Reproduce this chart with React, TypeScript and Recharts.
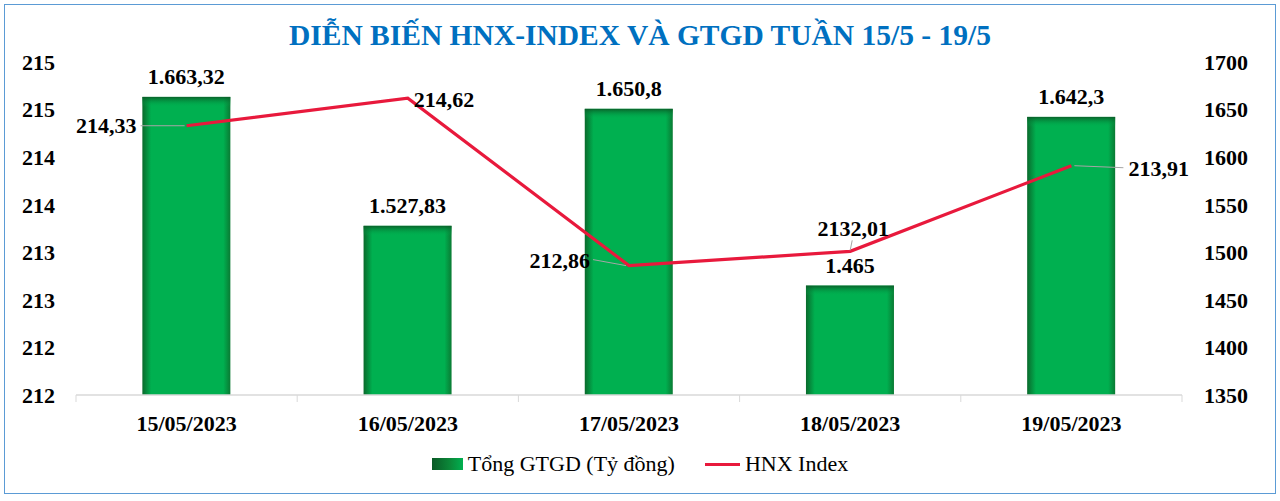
import React from "react";
import { ComposedChart, Bar, Line, XAxis, YAxis, LabelList } from "recharts";

// values
const days = ["15/05/2023", "16/05/2023", "17/05/2023", "18/05/2023", "19/05/2023"];
const gtgd = [1663.32, 1527.83, 1650.8, 1465, 1642.3];
const hnxIndex = [214.33, 214.62, 212.86, 213.01, 213.91];
const hnxLabels = ["214,33", "214,62", "212,86", "2132,01", "213,91"];
const leftTicks = [211.5, 212, 212.5, 213, 213.5, 214, 214.5, 215];
const rightTicks = [1350, 1400, 1450, 1500, 1550, 1600, 1650, 1700];

const data = days.map((day, i) => ({
  day,
  gtgd: gtgd[i],
  hnx: hnxIndex[i],
  hnxLabel: hnxLabels[i],
}));

const FONT = "'Liberation Serif', 'Times New Roman', serif";
const GREEN = "#00B050";
const RED = "#E8193C";
const X_TICK_MARGIN = 20;

// where each HNX label sits relative to its point (style only)
const hnxPlacement = [
  { dx: -50, dy: 0, anchor: "end", lead: [-46, 0, -2, 0] },
  { dx: 6, dy: 1, anchor: "start", lead: null },
  { dx: -39, dy: -5, anchor: "end", lead: [-36, -6, -3, 0] },
  { dx: 3, dy: -23, anchor: "middle", lead: [2, -11, 0, -1] },
  { dx: 57, dy: 3, anchor: "start", lead: [3, 0, 52, 2] },
];

const fmtVN = (v: number) => {
  const [int, dec] = String(v).split(".");
  const withDots = int.replace(/\B(?=(\d{3})+(?!\d))/g, ".");
  return dec ? `${withDots},${dec}` : withDots;
};

const GradientBar = (props: any) => {
  const { x, y, width, height, index } = props;
  if (!height || height <= 0) return null;
  const hid = `bar-h-${index}`;
  const vid = `bar-v-${index}`;
  const edge = Math.min(0.5, 10 / height);
  return (
    <g>
      <defs>
        <linearGradient id={hid} x1="0" y1="0" x2="1" y2="0">
          <stop offset="0" stopColor="#0A6A2C" />
          <stop offset="0.1" stopColor={GREEN} />
          <stop offset="0.92" stopColor={GREEN} />
          <stop offset="1" stopColor="#0A7A33" />
        </linearGradient>
        <linearGradient id={vid} x1="0" y1="0" x2="0" y2="1">
          <stop offset="0" stopColor="#0A5A26" stopOpacity={0.9} />
          <stop offset={edge} stopColor={GREEN} stopOpacity={0} />
        </linearGradient>
      </defs>
      <rect x={x} y={y} width={width} height={height} fill={`url(#${hid})`} />
      <rect x={x} y={y} width={width} height={height} fill={`url(#${vid})`} />
    </g>
  );
};

const HnxDot = (props: any) => {
  const { cx, cy, index, payload } = props;
  const p = hnxPlacement[index];
  if (cx == null || cy == null || !p) return null;
  return (
    <g key={`hnx-lbl-${index}`}>
      {p.lead && (
        <line
          x1={cx + p.lead[0]}
          y1={cy + p.lead[1]}
          x2={cx + p.lead[2]}
          y2={cy + p.lead[3]}
          stroke="#A6A6A6"
          strokeWidth={1}
        />
      )}
      <text
        x={cx + p.dx}
        y={cy + p.dy}
        dy="0.35em"
        textAnchor={p.anchor}
        fontSize={22}
        fontWeight="bold"
        fill="#000"
        fontFamily={FONT}
      >
        {payload.hnxLabel}
      </text>
    </g>
  );
};

const DayTick = (props: any) => {
  const { x, y, payload, index, width, visibleTicksCount } = props;
  const count = visibleTicksCount || days.length;
  const band = (width || 1106) / count;
  const axisY = y - X_TICK_MARGIN;
  return (
    <g>
      <line x1={x - band / 2} x2={x - band / 2} y1={axisY} y2={axisY + 7} stroke="#D9D9D9" />
      {index === count - 1 && (
        <line x1={x + band / 2} x2={x + band / 2} y1={axisY} y2={axisY + 7} stroke="#D9D9D9" />
      )}
      <text
        x={x}
        y={y}
        dy="0.71em"
        textAnchor="middle"
        fontSize={22}
        fontWeight="bold"
        fill="#000"
        fontFamily={FONT}
      >
        {payload.value}
      </text>
    </g>
  );
};

const tickStyle = { fontSize: 22, fontWeight: "bold", fill: "#000", fontFamily: FONT };

export default function App() {
  return (
    <div
      style={{
        position: "absolute",
        left: 0,
        top: 0,
        width: 1280,
        height: 501,
        background: "#fff",
        fontFamily: FONT,
      }}
    >
      <div
        style={{
          position: "absolute",
          left: 4,
          top: 4,
          width: 1272,
          height: 490,
          boxSizing: "border-box",
          border: "1.5px solid #5B9BD5",
        }}
      />
      <div
        style={{
          position: "absolute",
          top: 19,
          left: 0,
          width: 1280,
          textAlign: "center",
          fontSize: 29.5,
          lineHeight: "32px",
          fontWeight: "bold",
          color: "#0070C0",
        }}
      >
        DIỄN BIẾN HNX-INDEX VÀ GTGD TUẦN 15/5 - 19/5
      </div>

      <div style={{ position: "absolute", left: 0, top: 0 }}>
        <ComposedChart
          width={1280}
          height={501}
          data={data}
          margin={{ top: 62, right: 0, bottom: 56, left: 0 }}
          barCategoryGap="30%"
        >
          <XAxis
            dataKey="day"
            height={50}
            tickLine={false}
            tickSize={0}
            tickMargin={X_TICK_MARGIN}
            axisLine={{ stroke: "#D9D9D9", strokeWidth: 1.5 }}
            interval={0}
            tick={<DayTick />}
          />
          <YAxis
            yAxisId="idx"
            orientation="left"
            width={76}
            domain={[211.5, 215]}
            ticks={leftTicks}
            interval={0}
            axisLine={false}
            tickLine={false}
            tickSize={0}
            tickMargin={21}
            tick={tickStyle}
            tickFormatter={(v: number) => String(Math.round(v))}
          />
          <YAxis
            yAxisId="gtgd"
            orientation="right"
            width={98}
            domain={[1350, 1700]}
            ticks={rightTicks}
            interval={0}
            axisLine={false}
            tickLine={false}
            tickSize={0}
            tickMargin={22}
            tick={{ ...tickStyle, textAnchor: "start" }}
          />
          <Bar
            yAxisId="gtgd"
            dataKey="gtgd"
            name="Tổng GTGD (Tỷ đồng)"
            shape={<GradientBar />}
            isAnimationActive={false}
          >
            <LabelList
              dataKey="gtgd"
              position="top"
              offset={13}
              formatter={(v: any) => fmtVN(Number(v))}
              style={{ fontSize: 22, fontWeight: "bold", fill: "#000", fontFamily: FONT }}
            />
          </Bar>
          <Line
            yAxisId="idx"
            dataKey="hnx"
            name="HNX Index"
            type="linear"
            stroke={RED}
            strokeWidth={3.2}
            dot={(p: any) => <HnxDot {...p} />}
            activeDot={false}
            isAnimationActive={false}
          />
        </ComposedChart>
      </div>

      <div
        style={{
          position: "absolute",
          top: 451,
          left: 0,
          width: 1280,
          display: "flex",
          justifyContent: "center",
          alignItems: "center",
          fontSize: 22,
          color: "#000",
        }}
      >
        <span
          style={{
            display: "inline-block",
            width: 31,
            height: 12,
            marginRight: 5,
            background: `linear-gradient(to right, #0A5A26 0%, #0B8A3A 60%, ${GREEN} 100%)`,
          }}
        />
        <span>Tổng GTGD (Tỷ đồng)</span>
        <span
          style={{
            display: "inline-block",
            width: 35,
            height: 3,
            marginLeft: 30,
            marginRight: 5,
            background: RED,
          }}
        />
        <span>HNX Index</span>
      </div>
    </div>
  );
}
